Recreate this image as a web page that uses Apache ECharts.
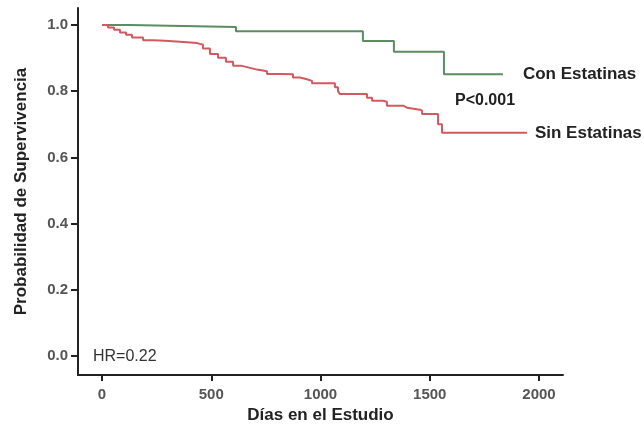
<!DOCTYPE html>
<html>
<head>
<meta charset="utf-8">
<script src="https://cdn.jsdelivr.net/npm/echarts@6/dist/echarts.min.js"></script>
<style>html,body{margin:0;padding:0;background:#fff;}#c{width:644px;height:429px;}</style>
</head>
<body>
<div id="c"></div>
<script>
// Kaplan-Meier curves (event day, survival after event)
const conDays = [0, 128, 613, 1194, 1336, 1565, 1835];
const conSurv = [1.000, 0.994, 0.981, 0.951, 0.919, 0.851, 0.851];
const sinDays = [0, 27, 55, 82, 110, 137, 188, 233, 288, 357, 435, 462, 494, 531, 567, 600, 636, 673, 709, 755, 815, 874, 906, 938, 961, 1066, 1080, 1089, 1213, 1236, 1286, 1304, 1378, 1396, 1455, 1465, 1538, 1556, 1945];
const sinSurv = [1.000, 0.992, 0.985, 0.977, 0.970, 0.962, 0.954, 0.952, 0.949, 0.945, 0.940, 0.929, 0.912, 0.901, 0.889, 0.877, 0.871, 0.865, 0.860, 0.852, 0.851, 0.841, 0.836, 0.831, 0.824, 0.812, 0.800, 0.791, 0.780, 0.771, 0.768, 0.756, 0.750, 0.744, 0.741, 0.731, 0.700, 0.674, 0.674];
const xTicks = [0, 500, 1000, 1500, 2000];
const yTicks = [0, 0.2, 0.4, 0.6, 0.8, 1.0];
const seriesNames = ['Con Estatinas', 'Sin Estatinas'];
const pText = 'P<0.001';
const hrText = 'HR=0.22';
const xTitle = 'Días en el Estudio';
const yTitle = 'Probabilidad de Supervivencia';

const conData = conDays.map((d, i) => [d, conSurv[i]]);
const sinData = sinDays.map((d, i) => [d, sinSurv[i]]);

const FONT = '"Liberation Sans", Arial, sans-serif';
const chart = echarts.init(document.getElementById('c'), null, {renderer: 'canvas'});
chart.setOption({
  animation: false,
  backgroundColor: '#ffffff',
  grid: {left: 78, top: 8, right: 81, bottom: 52, containLabel: false},
  xAxis: {
    type: 'value', min: -110, max: 2110,
    axisLine: {show: true, onZero: false, lineStyle: {color: '#222', width: 2}},
    axisTick: {show: true, customValues: xTicks, length: 6, lineStyle: {color: '#222', width: 2}},
    axisLabel: {customValues: xTicks, margin: 12, fontSize: 15, fontWeight: 'bold', color: '#555', fontFamily: FONT,
      formatter: v => String(v)},
    splitLine: {show: false},
    name: xTitle, nameLocation: 'middle', nameGap: 32,
    nameTextStyle: {fontSize: 17, fontWeight: 'bold', color: '#222', fontFamily: FONT}
  },
  yAxis: {
    type: 'value', min: -0.057, max: 1.051,
    axisLine: {show: true, onZero: false, lineStyle: {color: '#222', width: 2}},
    axisTick: {show: true, customValues: yTicks, length: 7, lineStyle: {color: '#222', width: 2}},
    axisLabel: {customValues: yTicks, margin: 10, fontSize: 15, fontWeight: 'bold', color: '#555', fontFamily: FONT,
      formatter: v => v.toFixed(1)},
    splitLine: {show: false},
    name: yTitle, nameLocation: 'middle', nameGap: 48, nameRotate: 90,
    nameTextStyle: {fontSize: 17, fontWeight: 'bold', color: '#222', fontFamily: FONT}
  },
  series: [
    {
      name: seriesNames[0], type: 'line', step: 'end', data: conData, symbol: 'none',
      lineStyle: {color: '#5b8c62', width: 2},
      endLabel: {show: true, formatter: seriesNames[0], distance: 20, fontSize: 17, fontWeight: 'bold', color: '#222', fontFamily: FONT}
    },
    {
      name: seriesNames[1], type: 'line', step: 'end', data: sinData, symbol: 'none',
      lineStyle: {color: '#d4585f', width: 2},
      endLabel: {show: true, formatter: seriesNames[1], distance: 8, fontSize: 17, fontWeight: 'bold', color: '#222', fontFamily: FONT}
    }
  ],
  graphic: [
    {type: 'text', left: 455, top: 93, style: {text: pText, fontSize: 16, fontWeight: 'bold', fill: '#222', fontFamily: FONT}},
    {type: 'text', left: 93, top: 349, style: {text: hrText, fontSize: 16, fill: '#333', fontFamily: FONT}}
  ]
});
</script>
</body>
</html>
